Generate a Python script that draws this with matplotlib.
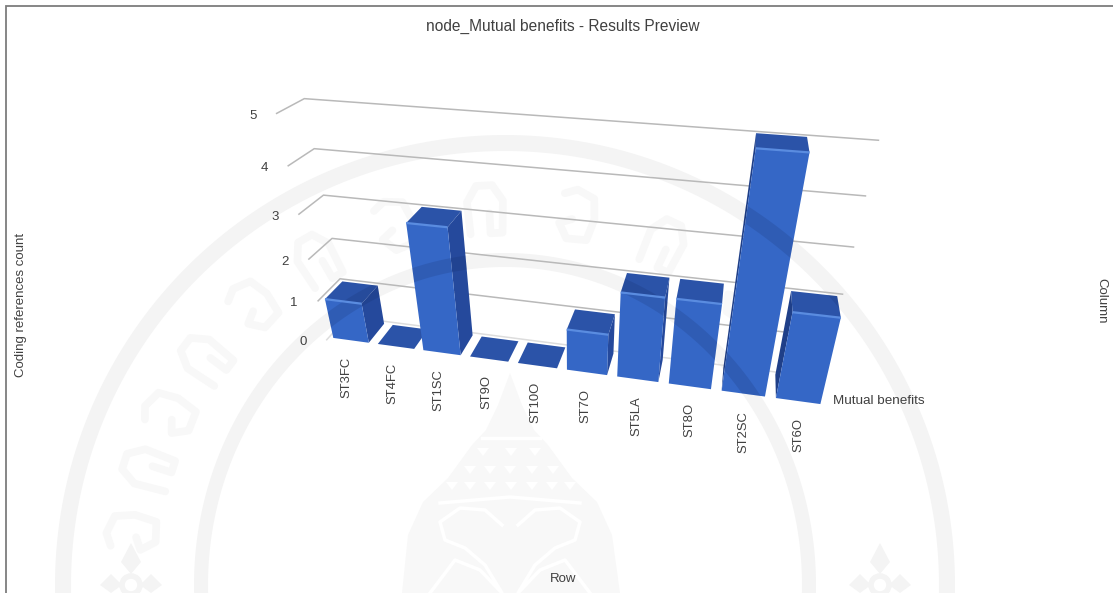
import numpy as np
import matplotlib
matplotlib.use("Agg")
import matplotlib.pyplot as plt
from matplotlib.patches import Polygon, Circle

# Chart data
rows = ["ST3FC", "ST4FC", "ST1SC", "ST9O", "ST10O", "ST7O", "ST5LA", "ST8O", "ST2SC", "ST6O"]
counts = [1, 0, 3, 0, 0, 1, 2, 2, 5, 2]
value_ticks = [0, 1, 2, 3, 4, 5]
series_name = "Mutual benefits"

W, H = 1113, 593
BAR_GAP = 0.1
DEPTH_FRONT, DEPTH_BACK = 0.1, 0.9

# Camera calibration: (row position, value, depth) -> screen position
calibration = [
    (0.1, 1, .1, 326, 300), (0.9, 1, .1, 365, 303), (0.1, 0, .1, 332, 337), (0.9, 0, .1, 368, 342),
    (0.1, 1, .9, 342, 282), (0.9, 1, .9, 378, 287),
    (2.1, 0, .1, 423, 350), (2.9, 0, .1, 460, 354), (2.1, 3, .1, 408, 223), (2.9, 3, .1, 449, 227),
    (2.1, 3, .9, 423, 207), (2.9, 3, .9, 462, 211),
    (8.1, 0, .1, 722, 391), (8.9, 0, .1, 764, 397), (8.1, 5, .1, 755, 148), (8.9, 5, .1, 810, 153),
    (8.1, 5, .9, 755, 133), (8.9, 5, .9, 807, 137),
    (9.1, 0, .1, 775, 398), (9.9, 0, .1, 821, 405), (9.1, 2, .1, 792, 312), (9.9, 2, .1, 842, 318),
    (9.1, 2, .9, 790, 292), (9.9, 2, .9, 837, 296),
    (10, 5, 1, 878, 140), (10, 4, 1, 866, 195), (10, 3, 1, 854, 246), (10, 2, 1, 843, 294),
    (0, 5, 1, 304, 99), (0, 4, 1, 314, 149), (0, 3, 1, 323, 194), (0, 2, 1, 332, 238), (0, 1, 1, 340, 279),
    (0, 5, 0, 278, 114), (0, 4, 0, 286, 166), (0, 3, 0, 298, 214), (0, 2, 0, 306, 259),
    (0, 1, 0, 318, 301), (0, 0, 0, 328, 340),
]


def solve_camera(samples):
    rows_a = []
    for x, y, z, u, v in samples:
        u, v = u / 1000.0, v / 1000.0
        rows_a.append([x, y, z, 1, 0, 0, 0, 0, -u * x, -u * y, -u * z, -u])
        rows_a.append([0, 0, 0, 0, x, y, z, 1, -v * x, -v * y, -v * z, -v])
    _, _, vt = np.linalg.svd(np.array(rows_a, float))
    m = vt[-1].reshape(3, 4)
    return np.diag([1000.0, 1000.0, 1.0]) @ m


P = solve_camera(calibration)
_, _, vt_cam = np.linalg.svd(P)
cam = vt_cam[-1][:3] / vt_cam[-1][3]


def project(x, y, z):
    h = P @ np.array([x, y, z, 1.0])
    return h[0] / h[2], h[1] / h[2]


fig = plt.figure(figsize=(W / 100, H / 100), dpi=100, facecolor="white")
ax = fig.add_axes([0, 0, 1, 1])
ax.set_xlim(0, W)
ax.set_ylim(H, 0)
ax.axis("off")
plt.rcParams["font.family"] = ["Liberation Sans", "DejaVu Sans"]

TEXT = "#404040"
GRID = "#b9b9b9"
FRONT = "#3567c6"
TOP = "#2b53a8"
RIGHT = "#25499c"
LEFT = "#1f3f88"
EDGE = "#5a8ce0"
PALE = "#f4f4f4"
PALER = "#f8f8f8"
CX, CY = 505, 585


def ring(rx_out, ry_out, rx_in, ry_in):
    t = np.linspace(0, 2 * np.pi, 300)
    outer = np.c_[CX + rx_out * np.cos(t), CY + ry_out * np.sin(t)]
    inner = np.c_[CX + rx_in * np.cos(t[::-1]), CY + ry_in * np.sin(t[::-1])]
    return np.vstack([outer, inner])


RINGS = [ring(450, 450, 434, 434), ring(311, 332, 297, 318)]

# Screenshot frame
ax.plot([6, 6, W], [H, 5.5, 5.5], color="#7d7d7d", lw=1.3, zorder=1, solid_joinstyle="miter")

# Page seal: pale rings and lettering behind the chart
for r in RINGS:
    ax.add_patch(Polygon(r, fc=PALE, ec="none", zorder=0.5))

glyph_a = np.array([(-16, 24), (-18, -8), (-8, -24), (8, -24), (18, -8), (16, 24), (4, 24), (4, 4)], float)
glyph_b = np.array([(-16, -20), (-4, -26), (14, -20), (18, 0), (14, 22), (-6, 24), (-16, 10), (-4, 4)], float)
for k, ang in enumerate([188, 198, 207, 217, 228, 240, 253, 267, 281, 295, 310]):
    a = np.radians(ang)
    gx, gy = CX + 376 * np.cos(a), CY + 376 * np.sin(a)
    rot = a + np.pi / 2
    g = glyph_a if k % 2 else glyph_b
    px = gx + g[:, 0] * np.cos(rot) - g[:, 1] * np.sin(rot)
    py = gy + g[:, 0] * np.sin(rot) + g[:, 1] * np.cos(rot)
    ax.plot(px, py, color=PALER, lw=5.5, zorder=0.5, solid_capstyle="round", solid_joinstyle="round")

# Central shrine motif
shrine = [(510, 373), (522, 405), (534, 430), (548, 445), (572, 478), (597, 502), (612, 535), (620, 593),
          (402, 593), (408, 535), (423, 502), (448, 478), (472, 445), (486, 430), (498, 405)]
ax.add_patch(Polygon(shrine, fc=PALER, ec="none", zorder=0.5))
ax.plot([482, 540], [438, 438], color="white", lw=2.5, zorder=0.6)
ax.plot([440, 510, 580], [503, 497, 503], color="white", lw=2.5, zorder=0.6)
for y0, xs in [(452, (483, 511, 535)), (470, (470, 490, 510, 532, 553)),
               (486, (452, 470, 490, 511, 532, 552, 570))]:
    for x0 in xs:
        ax.add_patch(Polygon([(x0 - 6, y0 - 4), (x0 + 6, y0 - 4), (x0, y0 + 4)], fc="white", ec="none", zorder=0.6))
for sgn in (-1, 1):
    xs = 510 + sgn * np.array([8, 25, 50, 70, 65, 45, 25, 8, 30, 55, 80])
    ys = np.array([525, 510, 508, 522, 540, 548, 565, 593, 570, 560, 593])
    ax.plot(xs, ys, color="white", lw=2.5, zorder=0.6, solid_joinstyle="round")

# Flower ornaments at the lower corners
for fx in (131, 880):
    ax.add_patch(Polygon([(fx, 543), (fx + 10, 562), (fx, 574), (fx - 10, 562)], fc=PALE, ec="none", zorder=0.5))
    ax.add_patch(Circle((fx, 585), 9, fc="none", ec=PALE, lw=4, zorder=0.5))
    for dx in (-20, 20):
        ax.add_patch(Polygon([(fx + dx - 11, 585), (fx + dx, 574), (fx + dx + 11, 585), (fx + dx, 593)],
                             fc=PALE, ec="none", zorder=0.5))

# Value grid: short tick on the side wall, then along the back wall
for v in value_ticks:
    pts = [project(0, v, 0), project(0, v, 1), project(10, v, 1)]
    ax.plot(*zip(*pts), color=GRID if v else "#dddddd", lw=1.1, zorder=2, solid_joinstyle="round")
    fx, fy = project(0, v, 0)
    ax.text(fx - 24, fy + 2.5, str(v), ha="center", va="center", fontsize=9.5, color=TEXT)


def shaded_face(points, colour, z):
    face = Polygon(points, fc=colour, ec="none", zorder=z)
    ax.add_patch(face)
    # the rings of the seal show through as darker stripes on the bars
    for r in RINGS:
        band = Polygon(r, fc="#10245a", ec="none", alpha=0.16, zorder=z)
        ax.add_patch(band)
        band.set_clip_path(face)


# Bars, farthest from the camera axis first
order = sorted(range(len(rows)), key=lambda i: -abs(i + 0.5 - cam[0]))
for rank, i in enumerate(order):
    x0, x1 = i + BAR_GAP, i + 1 - BAR_GAP
    z0, z1 = DEPTH_FRONT, DEPTH_BACK
    v = counts[i]
    z = 3 + rank * 0.01
    if v > 0:
        if cam[0] > x1:
            shaded_face([project(x1, 0, z0), project(x1, 0, z1), project(x1, v, z1), project(x1, v, z0)], RIGHT, z)
        if cam[0] < x0:
            shaded_face([project(x0, 0, z0), project(x0, 0, z1), project(x0, v, z1), project(x0, v, z0)], LEFT, z)
        shaded_face([project(x0, 0, z0), project(x1, 0, z0), project(x1, v, z0), project(x0, v, z0)], FRONT, z)
    shaded_face([project(x0, v, z0), project(x1, v, z0), project(x1, v, z1), project(x0, v, z1)], TOP, z)
    if v > 0:
        ax.plot(*zip(project(x0, v, z0), project(x1, v, z0)), color=EDGE, lw=1.6, zorder=z,
                solid_capstyle="butt")

# Row labels under the bars, set out in front of the floor
for i, label in enumerate(rows):
    px, py = project(i + 0.5, 0, -0.1)
    ax.text(px, py + 11, label, rotation=90, ha="center", va="top", fontsize=9.4, color=TEXT)

ax.text(833, 401, series_name, ha="left", va="center", fontsize=9.7, color=TEXT)
ax.text(563, 26, "node_Mutual benefits - Results Preview", ha="center", va="center", fontsize=11.2, color=TEXT)
ax.text(21, 305, "Coding references count", rotation=90, ha="center", va="center", fontsize=9.5, color=TEXT)
ax.text(1101, 301, "Column", rotation=270, ha="center", va="center", fontsize=9.5, color=TEXT)
ax.text(563, 579, "Row", ha="center", va="center", fontsize=9.5, color=TEXT)

fig.savefig("out.png", dpi=100)
